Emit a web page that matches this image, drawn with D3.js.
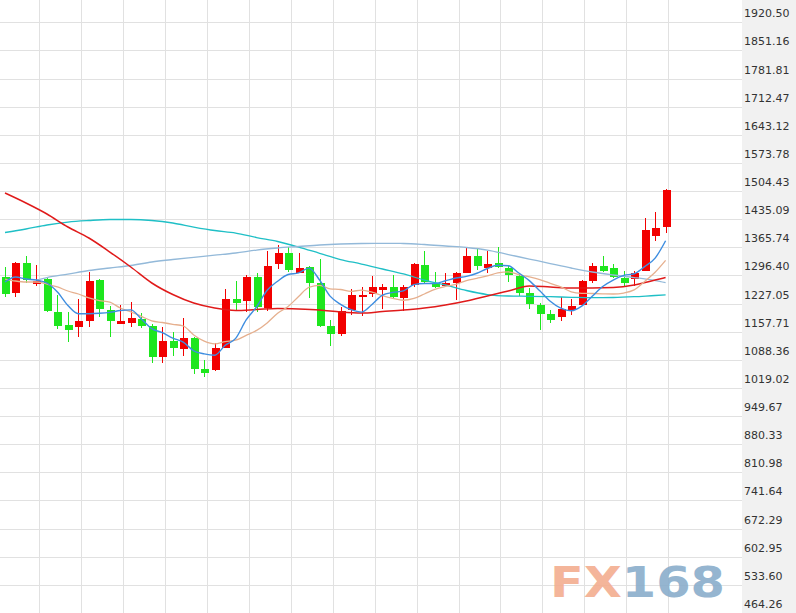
<!DOCTYPE html>
<html>
<head>
<meta charset="utf-8">
<script src="https://cdn.jsdelivr.net/npm/d3@7"></script>
<style>
  html, body { margin: 0; padding: 0; background: #fff; }
  svg { display: block; }
</style>
</head>
<body>
<svg id="chart" width="796" height="613"></svg>
<script>
// candle values, one per session (oldest first)
const opens = [1292.6,1252.4,1327.1,1275.3,1287.6,1207.0,1174.2,1168.6,1184.8,1285.1,
  1211.2,1177.4,1179.9,1188.3,1172.5,1096.1,1134.0,1115.1,1141.4,1065.0,
  1063.3,1118.3,1237.6,1233.4,1293.3,1215.4,1324.6,1351.0,1303.2,1318.0,
  1277.1,1172.5,1151.3,1211.2,1242.6,1250.7,1260.5,1267.2,1241.6,1272.9,
  1322.2,1277.1,1270.4,1277.1,1303.2,1344.4,1314.0,1326.3,1314.0,1295.8,
  1252.4,1223.5,1200.6,1193.2,1211.2,1223.5,1283.4,1319.7,1314.0,1290.9,
  1286.9,1308.1,1393.7,1415.1];
const highs = [1317.2,1330.2,1344.4,1322.2,1289.4,1248.3,1205.5,1237.6,1305.6,1287.6,
  1221.0,1223.5,1231.6,1204.5,1176.0,1170.0,1156.3,1190.7,1145.4,1087.9,
  1129.1,1262.2,1282.7,1297.5,1303.2,1357.4,1372.2,1365.8,1352.6,1320.4,
  1336.2,1186.5,1217.9,1262.2,1268.7,1295.8,1275.3,1297.5,1272.9,1327.8,
  1356.7,1305.6,1301.8,1305.6,1365.8,1363.3,1357.4,1365.8,1319.7,1301.8,
  1264.8,1228.5,1211.2,1242.6,1237.6,1285.1,1327.8,1345.1,1324.6,1308.1,
  1308.1,1437.3,1452.1,1509.5];
const lows = [1243.4,1242.6,1277.8,1270.4,1207.0,1163.6,1133.1,1145.4,1170.0,1193.2,
  1143.9,1175.9,1170.0,1166.1,1079.8,1081.3,1097.8,1098.6,1052.7,1046.9,
  1061.6,1116.8,1211.2,1207.0,1207.0,1208.7,1313.5,1305.6,1301.8,1240.1,
  1170.0,1122.5,1147.1,1198.9,1196.4,1244.1,1213.7,1239.6,1208.7,1268.7,
  1277.1,1264.8,1269.2,1235.8,1301.8,1309.8,1303.2,1314.0,1281.0,1246.6,
  1212.9,1161.9,1179.9,1184.1,1198.9,1221.0,1278.5,1305.6,1289.4,1267.2,
  1270.4,1307.4,1382.1,1401.8];
const closes = [1250.7,1327.8,1285.1,1283.4,1208.7,1172.5,1162.6,1183.4,1283.4,1213.7,
  1184.8,1184.1,1190.7,1172.5,1094.6,1134.8,1116.8,1141.4,1065.8,1056.8,
  1118.3,1238.3,1227.7,1293.3,1219.3,1319.7,1351.0,1309.8,1314.0,1278.5,
  1172.5,1152.1,1208.7,1248.3,1248.3,1267.2,1267.2,1242.1,1268.7,1323.9,
  1281.0,1267.2,1277.1,1301.8,1344.4,1319.7,1324.6,1316.5,1297.5,1253.9,
  1226.0,1200.6,1186.5,1212.9,1221.8,1282.7,1320.4,1308.1,1293.3,1278.5,
  1303.2,1408.4,1412.6,1507.0];

// short moving averages, read per session
const ma5 = [1280.3,1292.6,1287.6,1285.1,1277.8,1255.6,1222.5,1202.1,1202.1,1203.1,
  1205.5,1210.0,1211.5,1189.3,1165.3,1155.3,1141.9,1132.1,1110.6,1103.0,
  1099.8,1124.2,1141.4,1186.8,1219.3,1259.8,1282.2,1298.7,1302.7,1314.5,
  1285.1,1245.5,1225.3,1212.0,1206.0,1224.8,1248.0,1254.6,1258.5,1273.9,
  1276.6,1276.6,1283.4,1290.1,1294.3,1301.9,1313.5,1321.4,1320.4,1302.5,
  1283.7,1258.8,1232.9,1215.9,1209.5,1220.8,1245.0,1269.2,1285.1,1296.5,
  1300.7,1318.2,1339.2,1382.0];
const ma10 = [1287.6,1282.7,1280.3,1280.3,1275.3,1268.0,1258.1,1250.7,1240.9,1234.6,
  1230.4,1216.1,1206.8,1195.7,1184.4,1180.4,1176.0,1171.8,1149.8,1134.3,
  1127.6,1133.1,1136.8,1148.8,1160.9,1179.4,1203.0,1219.8,1244.6,1267.3,
  1272.1,1263.5,1261.8,1257.1,1260.3,1255.1,1246.7,1239.8,1235.3,1239.8,
  1250.7,1262.3,1269.2,1274.3,1283.9,1289.4,1295.1,1302.5,1305.4,1298.2,
  1292.8,1286.2,1277.1,1268.2,1256.1,1252.4,1251.9,1251.2,1250.7,1253.1,
  1260.8,1281.5,1304.2,1333.5];

// long averages, read every second session
const slowIdx = [0,2,4,6,8,10,12,14,16,18,20,22,24,26,28,30,32,34,36,38,
  40,42,44,46,48,50,52,54,56,58,60,62,63];
const maCyan = [1402.3,1410.9,1420.8,1428.1,1431.9,1434.3,1434.3,1431.9,1425.7,1415.8,
  1407.2,1401.0,1389.9,1380.1,1366.5,1351.0,1335.7,1324.6,1312.3,1300.0,
  1285.1,1272.9,1259.3,1249.4,1245.8,1245.0,1244.0,1242.6,1241.6,1242.1,
  1244.0,1247.0,1248.3];
const maRed = [1499.6,1475.0,1447.9,1415.8,1388.7,1354.2,1317.2,1277.8,1249.4,1228.5,
  1216.1,1210.0,1212.4,1214.9,1213.7,1211.2,1206.3,1203.8,1207.5,1211.2,
  1216.1,1223.5,1233.4,1245.8,1258.1,1270.4,1268.0,1265.5,1265.5,1266.7,
  1272.9,1285.1,1291.3];
const steelIdx = [3,4,6,8,10,12,14,16,18,20,22,24,26,28,30,32,34,36,38,
  40,42,44,46,48,50,52,54,56,58,60,62,63];
const maSteel = [1285.1,1291.3,1299.9,1308.6,1314.8,1320.9,1329.6,1335.7,1341.1,1346.3,
  1351.8,1359.1,1364.1,1367.8,1371.5,1373.9,1375.2,1375.6,1375.2,1372.7,
  1369.0,1365.3,1359.1,1348.0,1336.9,1325.8,1314.8,1304.9,1297.5,1291.3,
  1283.9,1278.9];

const tickLabels = ["1920.50","1851.16","1781.81","1712.47","1643.12","1573.78",
  "1504.43","1435.09","1365.74","1296.40","1227.05","1157.71","1088.36","1019.02",
  "949.67","880.33","810.98","741.64","672.29","602.95","533.60","464.26"];

const W = 796, H = 613;
const plotRight = 742;

const svg = d3.select("#chart");

const x = d3.scaleLinear().domain([0, opens.length - 1]).range([5, 665.6]);
const y = d3.scaleLinear().domain([464.26, 1920.50]).range([613, 22.3]);

// axis panel
svg.append("rect")
  .attr("x", plotRight).attr("y", 0)
  .attr("width", W - plotRight).attr("height", H)
  .attr("fill", "#f1f1f1");

// grid
const grid = svg.append("g")
  .attr("stroke", "#e1e1e1")
  .attr("stroke-width", 1)
  .attr("shape-rendering", "crispEdges");

grid.selectAll(".hl")
  .data(tickLabels)
  .enter()
  .append("line")
  .attr("x1", 0).attr("x2", plotRight)
  .attr("y1", d => Math.round(y(+d)) + 0.5)
  .attr("y2", d => Math.round(y(+d)) + 0.5);

grid.selectAll(".vl")
  .data(d3.range(3.25, opens.length, 4))
  .enter()
  .append("line")
  .attr("y1", 0).attr("y2", H)
  .attr("x1", d => Math.round(x(d)) + 0.5)
  .attr("x2", d => Math.round(x(d)) + 0.5);

// tick labels
svg.append("g")
  .selectAll("text")
  .data(tickLabels)
  .enter()
  .append("text")
  .attr("x", 744)
  .attr("y", d => y(+d) - 5)
  .attr("fill", "#333")
  .attr("font-size", "11px")
  .attr("font-family", "DejaVu Sans, Verdana, sans-serif")
  .text(d => d);

// watermark
const mark = svg.append("text")
  .attr("x", 550)
  .attr("y", 597)
  .attr("font-family", "DejaVu Sans, sans-serif")
  .attr("font-weight", "bold")
  .attr("font-size", "42px")
  .attr("textLength", 175)
  .attr("lengthAdjust", "spacingAndGlyphs")
  .attr("opacity", 0.9);
mark.append("tspan").attr("fill", "#f3ad90").text("FX");
mark.append("tspan").attr("fill", "#8aaecb").text("168");

// candles
const candles = d3.range(opens.length).map(i => ({
  i, o: opens[i], h: highs[i], l: lows[i], c: closes[i]
}));
const upCol = "#f20000", downCol = "#1ee61e";
const bodyW = 8;

const cg = svg.selectAll(".candle")
  .data(candles)
  .enter()
  .append("g")
  .attr("class", "candle")
  .attr("shape-rendering", "crispEdges");

cg.append("line")
  .attr("x1", d => Math.round(x(d.i)) + 0.5)
  .attr("x2", d => Math.round(x(d.i)) + 0.5)
  .attr("y1", d => y(d.h))
  .attr("y2", d => y(d.l))
  .attr("stroke", d => d.c >= d.o ? upCol : downCol)
  .attr("stroke-width", 1);

cg.append("rect")
  .attr("x", d => Math.round(x(d.i)) + 0.5 - bodyW / 2)
  .attr("y", d => y(Math.max(d.o, d.c)))
  .attr("width", bodyW)
  .attr("height", d => Math.max(1, Math.abs(y(d.o) - y(d.c))))
  .attr("fill", d => d.c >= d.o ? upCol : downCol);

// moving average lines
function drawLine(idx, vals, color, width) {
  const pts = idx.map((k, j) => [x(k), y(vals[j])]);
  svg.append("path")
    .attr("d", d3.line().curve(d3.curveMonotoneX)(pts))
    .attr("fill", "none")
    .attr("stroke", color)
    .attr("stroke-width", width);
}

const allIdx = d3.range(opens.length);
drawLine(slowIdx, maCyan, "#1fbfc6", 1.3);
drawLine(steelIdx, maSteel, "#93b9d9", 1.3);
drawLine(slowIdx, maRed, "#e01a1a", 1.5);
drawLine(allIdx, ma10, "#e6b08f", 1.3);
drawLine(allIdx, ma5, "#3d8de0", 1.4);
</script>
</body>
</html>
